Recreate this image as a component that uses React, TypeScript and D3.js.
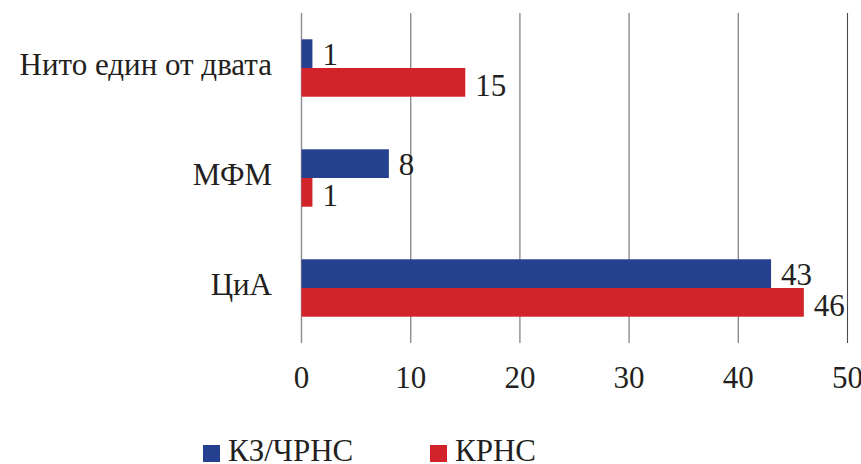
import React from "react";
import * as d3 from "d3";

const categories = ["Нито един от двата", "МФМ", "ЦиА"];
const seriesNames = ["КЗ/ЧРНС", "КРНС"];
const seriesColors = ["#25408f", "#d2232a"];
const valuesKZ = [1, 8, 43];
const valuesKRNS = [15, 1, 46];
const xTicks = [0, 10, 20, 30, 40, 50];

const W = 861;
const H = 464;
const FONT = "Liberation Serif, DejaVu Serif, Times New Roman, serif";
const TEXT = "#231f20";

export default function App() {
  const x = d3.scaleLinear().domain([0, 50]).range([301.5, 847.5]);
  const y = d3
    .scaleBand<string>()
    .domain(categories)
    .range([13, 343])
    .paddingInner(0.478)
    .paddingOuter(0.239);
  const sub = d3
    .scaleBand<number>()
    .domain([0, 1])
    .range([0, y.bandwidth()]);

  const series = [valuesKZ, valuesKRNS];
  const [y0, y1] = y.range();
  const txt = { fontFamily: FONT, fontSize: 31, fill: TEXT } as const;

  return (
    <svg
      width={W}
      height={H}
      style={{ position: "absolute", left: 0, top: 0, background: "#fff", fontFamily: FONT }}
    >
      {/* vertical gridlines */}
      {xTicks.map((t, i) => (
        <line
          key={t}
          x1={x(t)}
          x2={x(t)}
          y1={y0}
          y2={y1}
          stroke={i === xTicks.length - 1 ? "#4a4a4a" : "#8c8c8c"}
          strokeWidth={i === xTicks.length - 1 ? 1.1 : 1.4}
        />
      ))}

      {/* bars */}
      {series.map((vals, si) =>
        categories.map((c, ci) => {
          const top = (y(c) ?? 0) + (sub(si) ?? 0);
          return (
            <rect
              key={`${si}-${ci}`}
              x={x(0)}
              y={top}
              width={x(vals[ci]) - x(0)}
              height={sub.bandwidth()}
              fill={seriesColors[si]}
            />
          );
        })
      )}

      {/* value labels */}
      {series.map((vals, si) =>
        categories.map((c, ci) => {
          const bottom = (y(c) ?? 0) + (sub(si) ?? 0) + sub.bandwidth();
          return (
            <text
              key={`l-${si}-${ci}`}
              x={x(vals[ci]) + 10}
              y={bottom - (si === 0 ? 3 : 1)}
              style={txt}
            >
              {vals[ci]}
            </text>
          );
        })
      )}

      {/* category labels */}
      {categories.map((c) => (
        <text
          key={c}
          x={272}
          y={(y(c) ?? 0) + y.bandwidth() / 2 + 7}
          textAnchor="end"
          style={txt}
        >
          {c}
        </text>
      ))}

      {/* x tick labels */}
      {xTicks.map((t) => (
        <text key={`t-${t}`} x={x(t)} y={388} textAnchor="middle" style={txt}>
          {t}
        </text>
      ))}

      {/* legend */}
      {seriesNames.map((n, i) => {
        const lx = i === 0 ? 203 : 430;
        return (
          <g key={n}>
            <rect x={lx} y={445} width={17} height={17} fill={seriesColors[i]} />
            <text x={lx + 25} y={461} style={txt}>
              {n}
            </text>
          </g>
        );
      })}
    </svg>
  );
}
